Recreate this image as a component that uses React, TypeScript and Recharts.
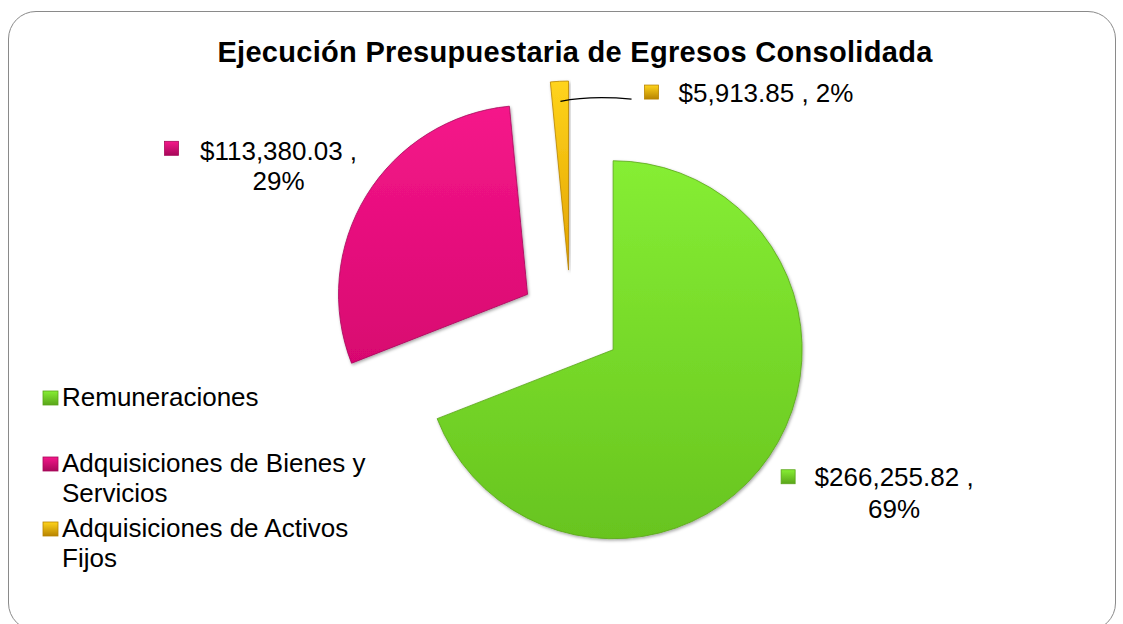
import React from 'react';
import { PieChart, Pie, Cell, Sector } from 'recharts';

const categories = ['Remuneraciones', 'Adquisiciones de Bienes y Servicios', 'Adquisiciones de Activos Fijos'];
const values = [266255.82, 113380.03, 5913.85];
const gradientIds = ['gGreen', 'gPink', 'gGold'];
const topColors = ['#86ee34', '#f5178a', '#ffd41c'];
const bottomColors = ['#68c41f', '#d80670', '#e2a200'];
const strokeColors = ['#5aa51a', '#a8085a', '#b88400'];

const data = categories.map((name, i) => ({ name, value: values[i] }));

const RAD = Math.PI / 180;
const EXPLODE = 51;
// label layout relative to the exploded sector apex
const labelLayout = [
  { mx: 168, my: 120, tx: 281, ty1: 136, ty2: 168, oneLine: false },
  { mx: -363, my: -153, tx: -249, ty1: -134, ty2: -104, oneLine: false },
  { mx: 76, my: -185, tx: 110, ty1: -168, ty2: 0, oneLine: true },
];
const legendGaps = [0, 36, 5];

const fmt = (v: number) => '$' + v.toLocaleString('en-US', { minimumFractionDigits: 2, maximumFractionDigits: 2 });

const ExplodedSector = (props: any) => {
  const { cx, cy, midAngle } = props;
  const dx = EXPLODE * Math.cos(-midAngle * RAD);
  const dy = EXPLODE * Math.sin(-midAngle * RAD);
  return <Sector {...props} cx={cx + dx} cy={cy + dy} />;
};

const renderLabel = (props: any) => {
  const { cx, cy, midAngle, index, value, percent, outerRadius } = props;
  const ax = cx + EXPLODE * Math.cos(-midAngle * RAD);
  const ay = cy + EXPLODE * Math.sin(-midAngle * RAD);
  const L = labelLayout[index];
  const pct = Math.round(percent * 100) + '%';
  const marker = (
    <rect x={ax + L.mx} y={ay + L.my} width={14} height={14} fill={`url(#${gradientIds[index]}M)`} stroke={strokeColors[index]} strokeWidth={0.8} />
  );
  if (L.oneLine) {
    const ex = ax + outerRadius * Math.cos(-midAngle * RAD);
    const ey = ay + outerRadius * Math.sin(-midAngle * RAD);
    const sx = ex + 1;
    const sy = ey + 20;
    return (
      <g>
        <path d={`M${sx},${sy} Q${sx + 30},${sy - 6} ${ax + L.mx - 13},${ay + L.my + 14}`} stroke="#000" strokeWidth={1.3} fill="none" />
        {marker}
        <text x={ax + L.tx} y={ay + L.ty1} fontSize={26} fontFamily="Liberation Sans, Arial, sans-serif" fill="#000">
          {fmt(value) + ' , ' + pct}
        </text>
      </g>
    );
  }
  return (
    <g>
      {marker}
      <text x={ax + L.tx} y={ay + L.ty1} fontSize={26} textAnchor="middle" fontFamily="Liberation Sans, Arial, sans-serif" fill="#000">
        {fmt(value) + ' ,'}
      </text>
      <text x={ax + L.tx} y={ay + L.ty2} fontSize={26} textAnchor="middle" fontFamily="Liberation Sans, Arial, sans-serif" fill="#000">
        {pct}
      </text>
    </g>
  );
};

const LegendBox = () => (
  <div style={{ position: 'absolute', left: 41, top: 382, width: 340, fontFamily: 'Liberation Sans, Arial, sans-serif', fontSize: 26, lineHeight: '30px', color: '#000' }}>
    {categories.map((name, idx) => (
      <div key={name} style={{ display: 'flex', alignItems: 'flex-start', marginTop: legendGaps[idx] }}>
        <svg width={21} height={30} style={{ flex: '0 0 auto' }}>
          <rect x={2} y={9} width={15} height={14} fill={`url(#${gradientIds[idx]}M)`} stroke={strokeColors[idx]} strokeWidth={0.8} />
        </svg>
        <span style={{ width: 312 }}>{name}</span>
      </div>
    ))}
  </div>
);

export default function App() {
  return (
    <div style={{ position: 'absolute', left: 0, top: 0, width: 1123, height: 624, background: '#fff', overflow: 'hidden' }}>
      <div style={{ position: 'absolute', left: 8, top: 11, width: 1108, height: 620, border: '1.5px solid #8a8a8a', borderRadius: 28, boxSizing: 'border-box' }} />
      <div style={{ position: 'absolute', left: 0, top: 36, width: 1150, textAlign: 'center', fontFamily: 'Liberation Sans, Arial, sans-serif', fontWeight: 'bold', fontSize: 29, letterSpacing: 0.3, lineHeight: '32px', color: '#000' }}>
        Ejecución Presupuestaria de Egresos Consolidada
      </div>
      <div style={{ position: 'absolute', left: 0, top: 0 }}>
        <PieChart width={1123} height={624} margin={{ top: 0, right: 0, bottom: 0, left: 0 }} style={{ outline: 'none' }}>
          <defs>
            {gradientIds.map((id, i) => (
              <linearGradient key={id} id={id} x1="0" y1="0" x2="0" y2="1">
                <stop offset="0%" stopColor={topColors[i]} />
                <stop offset="100%" stopColor={bottomColors[i]} />
              </linearGradient>
            ))}
            {gradientIds.map((id, i) => (
              <linearGradient key={id + 'M'} id={id + 'M'} x1="0" y1="0" x2="0" y2="1">
                <stop offset="0%" stopColor={topColors[i]} />
                <stop offset="100%" stopColor={strokeColors[i]} />
              </linearGradient>
            ))}
            <filter id="shadow" x="-10%" y="-10%" width="120%" height="120%">
              <feDropShadow dx="1" dy="1.5" stdDeviation="1.5" floodColor="#000" floodOpacity="0.35" />
            </filter>
          </defs>
          <Pie
            data={data}
            dataKey="value"
            nameKey="name"
            cx={571}
            cy={321}
            outerRadius={189}
            startAngle={90}
            endAngle={-270}
            isAnimationActive={false}
            shape={ExplodedSector}
            activeShape={ExplodedSector}
            inactiveShape={ExplodedSector}
            label={renderLabel}
            labelLine={false}
            style={{ filter: 'url(#shadow)' }}
          >
            {data.map((d, i) => (
              <Cell key={d.name} fill={`url(#${gradientIds[i]})`} stroke={strokeColors[i]} strokeWidth={0.8} />
            ))}
          </Pie>
        </PieChart>
      </div>
      <LegendBox />
    </div>
  );
}
